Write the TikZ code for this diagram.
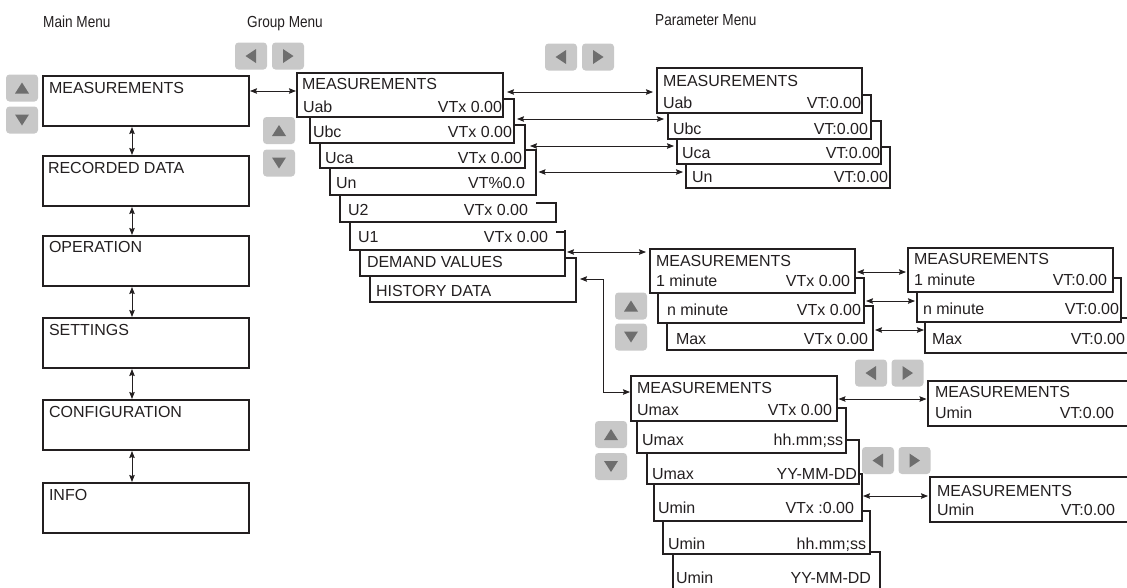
\documentclass[tikz,border=0pt]{standalone}
\usepackage{fontspec}
\setmainfont{Liberation Sans}
\newfontfamily\narrowfont[FakeStretch=0.85]{Liberation Sans}
\usetikzlibrary{arrows.meta}
\definecolor{tc}{HTML}{231F20}
\definecolor{btnfill}{HTML}{C8C8C8}
\definecolor{trifill}{HTML}{6E6E6E}
\newcommand\triU[1]{\fill[tri] ([shift={(0,-5.5)}]#1.center) -- ([shift={(7,5.5)}]#1.center) -- ([shift={(-7,5.5)}]#1.center) -- cycle;}
\newcommand\triD[1]{\fill[tri] ([shift={(0,5.5)}]#1.center) -- ([shift={(7,-5.5)}]#1.center) -- ([shift={(-7,-5.5)}]#1.center) -- cycle;}
\newcommand\triL[1]{\fill[tri] ([shift={(-5.5,0)}]#1.center) -- ([shift={(5,-7)}]#1.center) -- ([shift={(5,7)}]#1.center) -- cycle;}
\newcommand\triR[1]{\fill[tri] ([shift={(5.5,0)}]#1.center) -- ([shift={(-5,-7)}]#1.center) -- ([shift={(-5,7)}]#1.center) -- cycle;}
\newcommand\stackfrm[2]{\draw[frm] (#2.west |- #1.south) -- (#2.south west) -- (#2.south east) -- (#2.north east) -- (#1.east |- #2.north);}
\begin{document}
\begin{tikzpicture}[x=1pt,y=-1pt,
 txt/.style={inner sep=0pt, outer sep=0pt, text=tc, font=\fontsize{16}{18}\selectfont, text height=11.5pt, text depth=0pt},
 lt/.style={txt, anchor=west},
 rt/.style={txt, anchor=east},
 ttl/.style={inner sep=0pt, text=tc, font=\narrowfont\fontsize{16}{18}\selectfont, anchor=west, text height=11.5pt, text depth=0pt},
 area/.style={inner sep=0pt, outer sep=0pt, anchor=north west, draw=none},
 frm/.style={draw=tc, line width=1.8pt},
 biarr/.style={{Stealth[length=7pt,width=5.5pt,inset=1pt]}-{Stealth[length=7pt,width=5.5pt,inset=1pt]}, draw=tc, line width=0.8pt},
 btn/.style={fill=btnfill, rounded corners=3.5pt, minimum width=32pt, minimum height=27pt, inner sep=0pt, draw=none},
 tri/.style={fill=trifill}
]
\useasboundingbox (0,0) rectangle (1127,587);

% titles
\node[ttl] (t1) at (43,22) {Main Menu};
\node[ttl] (t2) at (247,22) {Group Menu};
\node[ttl] (t3) at (655,20) {Parameter Menu};

% buttons
\node[btn] (mu) at (22,88) {}; \triU{mu}
\node[btn] (md) at (22,120) {}; \triD{md}
\node[btn] (gu) at (279,130.5) {}; \triU{gu}
\node[btn] (gd) at (279,163) {}; \triD{gd}
\node[btn] (gl) at (251,56) {}; \triL{gl}
\node[btn] (gr) at (288,56) {}; \triR{gr}
\node[btn] (pl) at (561,57) {}; \triL{pl}
\node[btn] (pr) at (598,57) {}; \triR{pr}
\node[btn] (du) at (631,306) {}; \triU{du}
\node[btn] (dd) at (631,337) {}; \triD{dd}
\node[btn] (hu) at (611,434.5) {}; \triU{hu}
\node[btn] (hd) at (611,466.5) {}; \triD{hd}
\node[btn] (ql) at (871,373) {}; \triL{ql}
\node[btn] (qr) at (907.5,373) {}; \triR{qr}
\node[btn] (sl) at (878,460.5) {}; \triL{sl}
\node[btn] (sr) at (914.5,460.5) {}; \triR{sr}

% main menu boxes
\node[area, minimum width=206pt, minimum height=50pt] (m1) at (43,76) {};
\node[area, minimum width=206pt, minimum height=50pt] (m2) at (43,156) {};
\node[area, minimum width=206pt, minimum height=50pt] (m3) at (43,236) {};
\node[area, minimum width=206pt, minimum height=50pt] (m4) at (43,318) {};
\node[area, minimum width=206pt, minimum height=50pt] (m5) at (43,400) {};
\node[area, minimum width=206pt, minimum height=50pt] (m6) at (43,483) {};
\foreach \m in {m1,m2,m3,m4,m5,m6} {\draw[frm] (\m.north west) rectangle (\m.south east);}

% group menu boxes
\node[area, minimum width=206pt, minimum height=44pt] (b0) at (297,73) {};
\node[area, minimum width=204pt, minimum height=44pt] (b1) at (310,99) {};
\node[area, minimum width=205pt, minimum height=43pt] (b2) at (320,125) {};
\node[area, minimum width=206pt, minimum height=45pt] (b3) at (330,150) {};
\node[area, minimum width=216pt, minimum height=19pt] (b4) at (340,203) {};
\node[area, minimum width=215pt, minimum height=18pt] (b5) at (350,232) {};
\node[area, minimum width=205pt, minimum height=46pt] (b6) at (360,230) {};
\node[area, minimum width=206pt, minimum height=44pt] (b7) at (370,258) {};
\draw[frm] (b0.north west) rectangle (b0.south east);
\stackfrm{b0}{b1}\stackfrm{b1}{b2}\stackfrm{b2}{b3}\stackfrm{b3}{b4}
\stackfrm{b4}{b5}\stackfrm{b5}{b6}\stackfrm{b6}{b7}

% parameter menu boxes
\node[area, minimum width=205pt, minimum height=45pt] (p0) at (657,68) {};
\node[area, minimum width=203pt, minimum height=44pt] (p1) at (668,95) {};
\node[area, minimum width=204pt, minimum height=43pt] (p2) at (677,121) {};
\node[area, minimum width=204pt, minimum height=41pt] (p3) at (686,147) {};
\draw[frm] (p0.north west) rectangle (p0.south east);
\stackfrm{p0}{p1}\stackfrm{p1}{p2}\stackfrm{p2}{p3}

% demand boxes
\node[area, minimum width=205pt, minimum height=44pt] (d0) at (650,249) {};
\node[area, minimum width=206pt, minimum height=45pt] (d1) at (658,278) {};
\node[area, minimum width=206pt, minimum height=44pt] (d2) at (667,306) {};
\draw[frm] (d0.north west) rectangle (d0.south east);
\stackfrm{d0}{d1}\stackfrm{d1}{d2}

\node[area, minimum width=205pt, minimum height=44pt] (e0) at (908,248) {};
\node[area, minimum width=204pt, minimum height=44pt] (e1) at (917,278) {};
\node[area, minimum width=215pt, minimum height=35pt] (e2) at (925,318) {};
\draw[frm] (e0.north west) rectangle (e0.south east);
\stackfrm{e0}{e1}\stackfrm{e1}{e2}

% history boxes
\node[area, minimum width=206pt, minimum height=45pt] (h0) at (631,376) {};
\node[area, minimum width=209pt, minimum height=45pt] (h1) at (637,408) {};
\node[area, minimum width=212pt, minimum height=44pt] (h2) at (647,440) {};
\node[area, minimum width=208pt, minimum height=47pt] (h3) at (654,474) {};
\node[area, minimum width=207pt, minimum height=43pt] (h4) at (663,511) {};
\node[area, minimum width=207pt, minimum height=60pt] (h5) at (673,552) {};
\draw[frm] (h0.north west) rectangle (h0.south east);
\stackfrm{h0}{h1}\stackfrm{h1}{h2}\stackfrm{h2}{h3}\stackfrm{h3}{h4}\stackfrm{h4}{h5}

\node[area, minimum width=212pt, minimum height=45pt] (q0) at (928,381) {};
\node[area, minimum width=210pt, minimum height=45pt] (s0) at (930,477) {};
\draw[frm] (q0.north west) rectangle (q0.south east);
\draw[frm] (s0.north west) rectangle (s0.south east);

% texts: main
\node[lt] (mt1) at (49,88) {MEASUREMENTS};
\node[lt] (mt2) at (48,168) {RECORDED DATA};
\node[lt] (mt3) at (49,247) {OPERATION};
\node[lt] (mt4) at (49,330) {SETTINGS};
\node[lt] (mt5) at (49,412) {CONFIGURATION};
\node[lt] (mt6) at (49,495) {INFO};

% texts: group
\node[lt] (bt0) at (302,84) {MEASUREMENTS};
\node[lt] (bt1) at (303,107) {Uab};   \node[rt] (bv1) at (502,107) {VTx 0.00};
\node[lt] (bt2) at (313,132) {Ubc};   \node[rt] (bv2) at (512,132) {VTx 0.00};
\node[lt] (bt3) at (325,158) {Uca};   \node[rt] (bv3) at (522,158) {VTx 0.00};
\node[lt] (bt4) at (336,183) {Un};    \node[rt] (bv4) at (525,183) {VT\%0.0};
\node[lt] (bt5) at (348,210) {U2};    \node[rt] (bv5) at (528,210) {VTx 0.00};
\node[lt] (bt6) at (358,237) {U1};    \node[rt] (bv6) at (548,237) {VTx 0.00};
\node[lt] (bt7) at (367,262) {DEMAND VALUES};
\node[lt] (bt8) at (376,291) {HISTORY DATA};

% texts: parameter
\node[lt] (pt0) at (663,81) {MEASUREMENTS};
\node[lt] (pt1) at (663,103) {Uab}; \node[rt] (pv1) at (861,103) {VT:0.00};
\node[lt] (pt2) at (673,129) {Ubc}; \node[rt] (pv2) at (868,129) {VT:0.00};
\node[lt] (pt3) at (682,153) {Uca}; \node[rt] (pv3) at (880,153) {VT:0.00};
\node[lt] (pt4) at (692,177) {Un};  \node[rt] (pv4) at (888,177) {VT:0.00};

% texts: demand
\node[lt] (dt0) at (656,261) {MEASUREMENTS};
\node[lt] (dt1) at (656,281) {1 minute}; \node[rt] (dv1) at (850,281) {VTx 0.00};
\node[lt] (dt2) at (667,310) {n minute}; \node[rt] (dv2) at (861,310) {VTx 0.00};
\node[lt] (dt3) at (676,339) {Max};      \node[rt] (dv3) at (868,339) {VTx 0.00};
\node[lt] (et0) at (914,259) {MEASUREMENTS};
\node[lt] (et1) at (914,280) {1 minute}; \node[rt] (ev1) at (1107,280) {VT:0.00};
\node[lt] (et2) at (923,309) {n minute}; \node[rt] (ev2) at (1119,309) {VT:0.00};
\node[lt] (et3) at (932,339) {Max};      \node[rt] (ev3) at (1125,339) {VT:0.00};

% texts: history
\node[lt] (ht0) at (637,388) {MEASUREMENTS};
\node[lt] (ht1) at (637,410) {Umax}; \node[rt] (hv1) at (832,410) {VTx 0.00};
\node[lt] (ht2) at (642,440) {Umax}; \node[rt] (hv2) at (843,440) {hh.mm;ss};
\node[lt] (ht3) at (652,474) {Umax}; \node[rt] (hv3) at (857,474) {YY-MM-DD};
\node[lt] (ht4) at (658,508) {Umin}; \node[rt] (hv4) at (854,508) {VTx :0.00};
\node[lt] (ht5) at (668,544) {Umin}; \node[rt] (hv5) at (866,544) {hh.mm;ss};
\node[lt] (ht6) at (676,578) {Umin}; \node[rt] (hv6) at (871,578) {YY-MM-DD};
\node[lt] (qt0) at (935,392) {MEASUREMENTS};
\node[lt] (qt1) at (935,413) {Umin}; \node[rt] (qv1) at (1114,413) {VT:0.00};
\node[lt] (st0) at (937,491) {MEASUREMENTS};
\node[lt] (st1) at (937,510) {Umin}; \node[rt] (sv1) at (1115,510) {VT:0.00};

% connectors
\coordinate (vx) at (132,0);
\coordinate (ex) at (603,0);
\coordinate (y0) at (0,91);
\coordinate (y1) at (0,92);
\coordinate (y2) at (0,119);
\coordinate (y3) at (0,146);
\coordinate (y4) at (0,172);
\coordinate (y5) at (0,252);
\coordinate (y6) at (0,279);
\coordinate (y7) at (0,392);
\coordinate (y8) at (0,272);
\coordinate (y9) at (0,301);
\coordinate (y10) at (0,330);
\coordinate (y11) at (0,399);
\coordinate (y12) at (0,496);

\draw[biarr, shorten <=1pt, shorten >=1pt] (vx |- m1.south) -- (vx |- m2.north);
\draw[biarr, shorten <=1pt, shorten >=1pt] (vx |- m2.south) -- (vx |- m3.north);
\draw[biarr, shorten <=1pt, shorten >=1pt] (vx |- m3.south) -- (vx |- m4.north);
\draw[biarr, shorten <=1pt, shorten >=1pt] (vx |- m4.south) -- (vx |- m5.north);
\draw[biarr, shorten <=1pt, shorten >=1pt] (vx |- m5.south) -- (vx |- m6.north);
\draw[biarr, shorten <=1pt, shorten >=1pt] (m1.east |- y0) -- (b0.west |- y0);

\draw[biarr, shorten <=4pt, shorten >=4pt] (b0.east |- y1) -- (p0.west |- y1);
\draw[biarr, shorten <=3pt, shorten >=4pt] (b1.east |- y2) -- (p1.west |- y2);
\draw[biarr, shorten <=5pt, shorten >=3pt] (b2.east |- y3) -- (p2.west |- y3);
\draw[biarr, shorten <=2.5pt, shorten >=3pt] (b3.east |- y4) -- (p3.west |- y4);

\draw[biarr, shorten <=2pt, shorten >=4pt] (b6.east |- y5) -- (d0.west |- y5);
\draw[biarr, shorten <=4pt, shorten >=1pt] (b7.east |- y6) -| (ex |- y7) -- (h0.west |- y7);

\draw[biarr, shorten <=2pt, shorten >=2pt] (d0.east |- y8) -- (e0.west |- y8);
\draw[biarr, shorten <=2pt, shorten >=2pt] (d1.east |- y9) -- (e1.west |- y9);
\draw[biarr, shorten <=2pt, shorten >=1pt] (d2.east |- y10) -- (e2.west |- y10);

\draw[biarr, shorten <=1.5pt, shorten >=1.5pt] (h0.east |- y11) -- (q0.west |- y11);
\draw[biarr, shorten <=1pt, shorten >=2pt] (h3.east |- y12) -- (s0.west |- y12);
\end{tikzpicture}
\end{document}
